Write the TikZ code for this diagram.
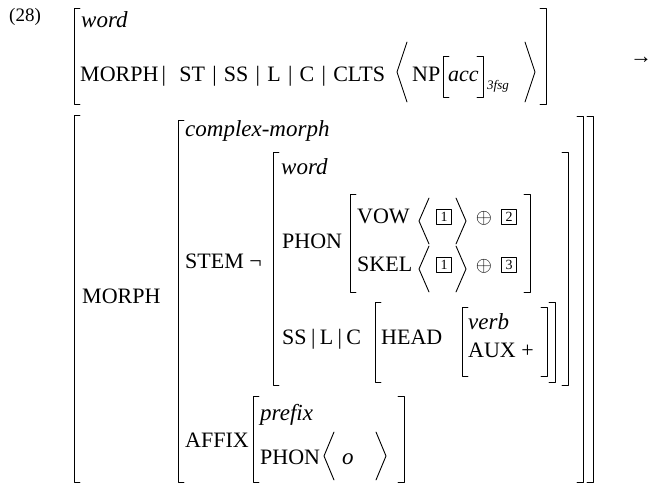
\documentclass[tikz,border=0pt]{standalone}
\usepackage{fontspec}
\setmainfont{Liberation Serif}
\begin{document}
\begin{tikzpicture}[x=1pt,y=-1pt,line cap=round,line join=round,
  every node/.style={inner sep=0pt,anchor=base west},
  feat/.style={font=\fontsize{22}{26}\selectfont},
  sort/.style={font=\fontsize{23}{26}\selectfont\itshape},
  tagbox/.style={draw,line width=0.7pt,minimum size=15pt,anchor=center,font=\fontsize{14}{14}\selectfont},
  oplus/.style={anchor=center,font=\fontsize{20}{20}\selectfont},
  brk/.style={line width=0.9pt}]
  \useasboundingbox (0,0) rectangle (651,484);
  % square brackets: x, top, bottom
  \def\avmL#1#2#3{\draw[brk] ({#1+6},#2) -- (#1,#2) -- (#1,#3) -- ({#1+6},#3);}
  \def\avmR#1#2#3{\draw[brk] ({#1-6},#2) -- (#1,#2) -- (#1,#3) -- ({#1-6},#3);}
  % angle brackets: x, top, bottom
  \def\angL#1#2#3{\draw[brk] ({#1+10},#2) -- (#1,{(#2+#3)/2}) -- ({#1+10},#3);}
  \def\angR#1#2#3{\draw[brk] ({#1-10},#2) -- (#1,{(#2+#3)/2}) -- ({#1-10},#3);}
  \def\fbar{\hspace{.33em}|\hspace{.33em}}
  % input
  \node[feat,font=\fontsize{19}{22}\selectfont] (num) at (9,22) {(28)};
  \avmL{74}{8}{104} \avmR{546}{8}{104}
  \node[sort] (w0) at (81,28) {word};
  \node[feat] (m0) at (80,82) {MORPH\hspace{.15em}|\hspace{.6em}ST\fbar SS\fbar L\fbar C\fbar CLTS};
  \angL{397}{42}{102}
  \node[feat] (np) at (412,82) {NP};
  \avmL{443}{56}{97} \avmR{483}{56}{97}
  \node[sort,font=\fontsize{22}{26}\selectfont\itshape] (acc) at (448,82) {acc};
  \node[sort,font=\fontsize{13}{14}\selectfont\itshape] (agr) at (487,90) {3fsg};
  \angR{535}{42}{102}
  \node[feat] (arr) at (630,64) {→};
  % output
  \avmL{74}{115}{482} \avmR{593}{116}{482}
  \node[feat] (morph) at (82,303) {MORPH};
  \avmL{178}{120}{482} \avmR{583}{116}{482}
  \node[sort] (cm) at (185,137) {complex-morph};
  \node[feat] (stem) at (185,268) {STEM ¬};
  \avmL{273}{152}{385} \avmR{568}{152}{385}
  \node[sort] (w1) at (281,175) {word};
  \node[feat] (phon) at (282,248) {PHON};
  \avmL{350}{194}{292} \avmR{530}{194}{292}
  \node[feat] (vow) at (357,223) {VOW};
  \angL{419}{198}{244}
  \node[tagbox] (t1) at (444,217) {1};
  \angR{466}{198}{244}
  \node[oplus] (op1) at (484,218) {$\oplus$};
  \node[tagbox] (t2) at (509,217) {2};
  \node[feat] (skel) at (357,271) {SKEL};
  \angL{419}{246}{292}
  \node[tagbox] (t1b) at (444,265) {1};
  \angR{466}{246}{292}
  \node[oplus] (op2) at (484,266) {$\oplus$};
  \node[tagbox] (t3) at (509,265) {3};
  \node[feat] (slc) at (282,344) {SS\hspace{.2em}|\hspace{.2em}L\hspace{.2em}|\hspace{.2em}C};
  \avmL{375}{302}{382} \avmR{555}{302}{382}
  \node[feat] (head) at (381,344) {HEAD};
  \avmL{462}{307}{376} \avmR{547}{307}{376}
  \node[sort] (verb) at (468,329) {verb};
  \node[feat] (aux) at (468,357) {AUX +};
  \node[feat] (affix) at (185,447) {AFFIX};
  \avmL{253}{396}{482} \avmR{404}{396}{482}
  \node[sort] (pfx) at (260,420) {prefix};
  \node[feat] (phon2) at (260,464) {PHON};
  \angL{324}{432}{480}
  \node[sort] (o) at (342,464) {o};
  \angR{386}{432}{480}
\end{tikzpicture}
\end{document}
